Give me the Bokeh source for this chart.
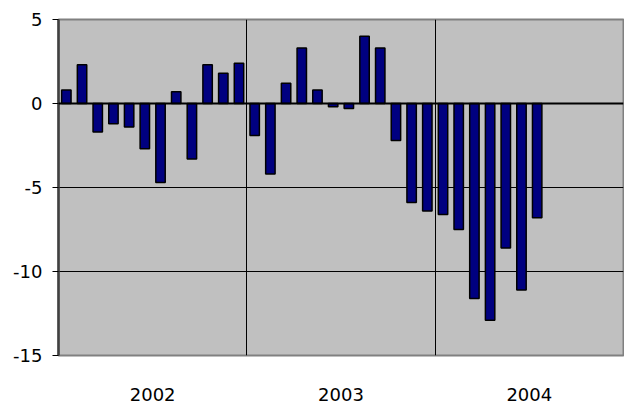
from bokeh.plotting import figure
from bokeh.models import FixedTicker, ColumnDataSource, Range1d, Span
from bokeh.embed import file_html
from bokeh.resources import INLINE

years = ["2002", "2003", "2004"]
months_per_year = 12
values = [0.8, 2.3, -1.7, -1.2, -1.4, -2.7, -4.7, 0.7, -3.3, 2.3, 1.8, 2.4,
          -1.9, -4.2, 1.2, 3.3, 0.8, -0.2, -0.3, 4.0, 3.3, -2.2, -5.9, -6.4,
          -6.6, -7.5, -11.6, -12.9, -8.6, -11.1, -6.8]
y_ticks = [-15, -10, -5, 0, 5]
y_tick_labels = ["-15", "-10", "-5", "0", "5"]

x = [i + 0.5 for i in range(len(values))]
src = ColumnDataSource(dict(x=x, top=values))

n_slots = months_per_year * len(years)
p = figure(width=624, height=405, output_backend="svg", toolbar_location=None,
           x_range=Range1d(0, n_slots), y_range=Range1d(-15, 5),
           min_border_left=58, min_border_right=1, min_border_top=19, min_border_bottom=50)

p.background_fill_color = "#C0C0C0"
p.border_fill_color = "white"
p.outline_line_color = "#808080"
p.outline_line_width = 2

# year boundary lines
p.xgrid.ticker = FixedTicker(ticks=[months_per_year * k for k in range(1, len(years))])
p.xgrid.grid_line_color = "black"
p.xgrid.grid_line_width = 1

p.ygrid.ticker = FixedTicker(ticks=[-10, -5])
p.ygrid.grid_line_color = "black"
p.ygrid.grid_line_width = 1

p.vbar(x="x", top="top", bottom=0, width=0.6, source=src,
       fill_color="#000080", line_color="black", line_width=1.5)

zero = Span(location=0, dimension="width", line_color="black", line_width=2)
p.add_layout(zero)

centers = [months_per_year * k + months_per_year / 2 for k in range(len(years))]
p.xaxis.ticker = FixedTicker(ticks=centers)
p.xaxis.major_label_overrides = {c: y for c, y in zip(centers, years)}
p.xaxis.major_tick_line_color = None
p.xaxis.minor_tick_line_color = None
p.xaxis.axis_line_color = None
p.xaxis.major_label_standoff = 26
p.xaxis.major_label_text_font = "DejaVu Sans"
p.xaxis.major_label_text_font_size = "18px"
p.xaxis.major_label_text_color = "black"

p.yaxis.ticker = FixedTicker(ticks=y_ticks)
p.yaxis.major_label_overrides = {t: s for t, s in zip(y_ticks, y_tick_labels)}
p.yaxis.major_tick_out = 6
p.yaxis.major_tick_in = 0
p.yaxis.major_tick_line_color = "black"
p.yaxis.minor_tick_line_color = None
p.yaxis.axis_line_color = "#404040"
p.yaxis.axis_line_width = 2.5
p.yaxis.major_label_standoff = 10
p.yaxis.major_label_text_font = "DejaVu Sans"
p.yaxis.major_label_text_font_size = "18px"
p.yaxis.major_label_text_color = "black"

open("out.html", "w").write(file_html(p, INLINE))
